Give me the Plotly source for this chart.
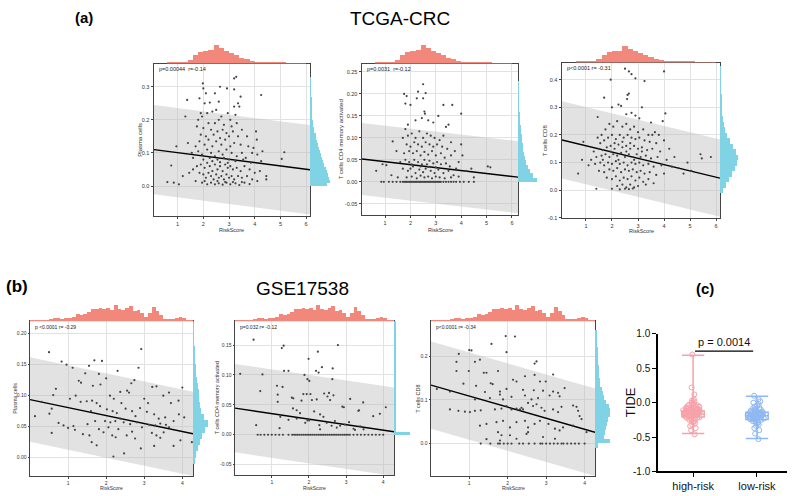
import plotly.graph_objects as go

W, H = 800, 496
FONT = "Liberation Sans, Arial, sans-serif"
SALMON = "#F2877B"
CYAN = "#7FD3E5"
PINK = "#F7A1A9"
BLUE = "#8FB8F2"

# ---------------- data ----------------
tcga_risk_start, tcga_risk_w = 0.6, 0.2
tcga_risk_counts = [1, 1, 1, 2, 4, 9, 12, 13, 14, 19, 16, 13, 11, 9, 6, 4.5, 3, 2, 1.5, 1, 1, 1, 0.7, 0.5, 0.4, 0.4, 0.3]

gse_risk_start, gse_risk_w = 0.0, 0.1
gse_risk_counts = [1.5, 1.2, 0.8, 0.8, 0.8, 3, 3.5, 3.5, 3, 3.5, 3.5, 5, 7, 6.5, 7, 9, 12, 12.5, 13, 12, 13, 11,
                   16, 12, 11, 13, 15, 10, 11, 8, 5, 8, 14, 10, 6, 3, 3, 3, 4, 4.5, 3.5, 2, 1]

a1_pts = [(3.2,0.325),(3.28,0.33),(1.98,0.31),(2.0,0.295),(2.65,0.3),(2.92,0.295),(3.2,0.292),(2.1,0.28),(2.45,0.28),
 (3.45,0.27),(4.25,0.275),(1.37,0.26),(1.85,0.265),(2.05,0.25),(2.25,0.252),(3.35,0.25),(3.2,0.24),(2.6,0.255),(3.4,0.24),
 (1.3,0.21),(1.8,0.2),(1.9,0.22),(1.95,0.21),(2.15,0.22),(2.35,0.225),(2.5,0.23),(2.7,0.21),(2.95,0.22),(3.05,0.2),
 (3.25,0.215),(2.2,0.19),(2.45,0.19),(2.6,0.2),(2.8,0.185),(3.1,0.18),(3.3,0.19),(1.75,0.18),(2.0,0.175),(2.3,0.17),
 (2.55,0.165),(2.75,0.17),(2.9,0.16),(3.15,0.165),(3.5,0.17),(4.05,0.165),(1.9,0.155),(2.1,0.15),(2.4,0.155),(2.65,0.145),
 (3.0,0.15),(3.35,0.15),(3.7,0.15),(4.08,0.14),(1.4,0.13),(1.7,0.12),(1.85,0.135),(2.05,0.125),(2.2,0.14),(2.35,0.12),
 (2.5,0.135),(2.7,0.125),(2.85,0.14),(3.05,0.12),(3.2,0.13),(3.45,0.125),(3.75,0.12),(3.95,0.115),(0.95,0.12),(1.55,0.1),
 (1.8,0.105),(1.95,0.095),(2.15,0.11),(2.3,0.1),(2.45,0.09),(2.6,0.105),(2.75,0.095),(2.9,0.11),(3.1,0.1),(3.3,0.09),
 (3.5,0.1),(3.65,0.085),(3.9,0.1),(4.1,0.095),(4.3,0.105),(5.15,0.102),(5.05,0.082),(1.6,0.085),(2.0,0.08),(2.25,0.085),
 (2.55,0.08),(2.8,0.085),(3.0,0.08),(3.25,0.075),(3.55,0.08),(3.85,0.07),(4.25,0.075),(0.75,0.062),(1.2,0.03),(1.45,0.04),
 (1.6,0.05),(1.75,0.06),(1.9,0.065),(2.05,0.055),(2.15,0.07),(2.25,0.06),(2.35,0.045),(2.45,0.065),(2.55,0.05),(2.65,0.06),
 (2.75,0.045),(2.85,0.065),(2.95,0.055),(3.05,0.06),(3.15,0.05),(3.3,0.055),(3.45,0.045),(3.6,0.06),(3.8,0.05),(4.0,0.04),
 (4.2,0.045),(4.45,0.03),(1.85,0.04),(2.0,0.035),(2.1,0.025),(2.2,0.04),(2.3,0.03),(2.4,0.02),(2.5,0.035),(2.6,0.025),
 (2.7,0.03),(2.8,0.02),(2.9,0.035),(3.0,0.025),(3.1,0.03),(3.2,0.02),(3.35,0.03),(3.5,0.025),(3.7,0.03),(3.9,0.02),
 (4.1,0.015),(4.45,0.02),(1.7,0.015),(1.95,0.01),(2.15,0.005),(2.3,0.01),(2.45,0.005),(2.6,0.008),(2.75,0.004),(2.9,0.01),
 (3.05,0.005),(3.25,0.008),(3.4,0.003),(3.6,0.01),(3.8,0.006),(0.6,0.012),(0.85,0.01),(1.05,0.005),(2.05,0.015),(2.55,0.015),
 (2.85,0.012),(3.15,0.012),(3.5,0.012),(2.35,0.075),(2.65,0.072),(2.95,0.07)]

a2_pts = [(2.5,0.222),(2.3,0.205),(1.75,0.2),(1.85,0.195),(2.6,0.202),(2.5,0.19),(2.25,0.19),(1.8,0.178),(2.0,0.175),
 (3.3,0.175),(3.65,0.175),(2.55,0.16),(2.57,0.155),(3.1,0.15),(2.7,0.14),(4.0,0.155),(3.5,0.13),(3.4,0.125),(1.9,0.13),
 (2.2,0.14),(2.45,0.145),(1.8,0.12),(2.9,0.135),(1.3,0.092),(1.45,0.07),(1.7,0.1),(1.9,0.105),(2.05,0.11),(2.2,0.1),
 (2.35,0.115),(2.5,0.1),(2.65,0.11),(2.8,0.105),(2.95,0.1),(3.15,0.095),(3.3,0.105),(3.6,0.09),(4.0,0.085),(1.85,0.085),
 (2.0,0.08),(2.15,0.09),(2.3,0.085),(2.45,0.08),(2.6,0.09),(2.75,0.085),(2.9,0.08),(3.05,0.085),(3.25,0.08),(3.45,0.075),
 (3.75,0.07),(4.05,0.06),(1.75,0.065),(1.95,0.07),(2.1,0.065),(2.25,0.07),(2.4,0.06),(2.55,0.068),(2.7,0.062),(2.85,0.07),
 (3.0,0.06),(3.2,0.065),(3.35,0.055),(3.6,0.06),(3.9,0.045),(4.4,0.03),(5.05,0.035),(5.15,0.033),(0.65,0.025),(0.9,0.04),
 (1.05,0.038),(1.6,0.045),(1.8,0.05),(1.95,0.045),(2.05,0.04),(2.15,0.05),(2.3,0.045),(2.45,0.04),(2.55,0.05),(2.65,0.04),
 (2.75,0.048),(2.9,0.042),(3.05,0.045),(3.2,0.04),(3.4,0.042),(3.55,0.035),(3.8,0.03),(4.2,0.025),(1.7,0.03),(1.9,0.025),
 (2.0,0.03),(2.2,0.02),(2.35,0.028),(2.5,0.022),(2.6,0.03),(2.8,0.025),(2.95,0.02),(3.1,0.028),(3.3,0.02),(3.5,0.025),
 (3.7,0.015),(4.5,0.01),(1.85,0.01),(2.05,0.012),(2.25,0.008),(2.4,0.014),(2.55,0.01),(2.7,0.012),(2.85,0.008),(3.0,0.012),
 (3.15,0.01),(3.35,0.008),(3.6,0.01),(3.9,0.012),(2.1,0.035),(2.4,0.035),(2.7,0.034),(3.0,0.033),(1.25,0.015),(1.5,0.01)]
a2_zero_x = [0.85,0.95,1.15,1.3,1.45,1.6,1.7,1.75,1.8,1.85,1.9,1.95,2.0,2.05,2.1,2.15,2.2,2.25,2.3,2.35,2.4,2.45,2.5,
 2.55,2.6,2.65,2.7,2.75,2.8,2.85,2.9,2.95,3.0,3.05,3.1,3.15,3.2,3.3,3.4,3.5,3.6,3.7,3.8,3.95,4.1,4.3,4.5]

a3_pts = [(2.5,0.44),(2.65,0.43),(4.0,0.43),(2.75,0.42),(2.9,0.405),(3.25,0.395),(1.95,0.4),(1.7,0.335),(2.6,0.345),
 (2.58,0.33),(2.25,0.31),(2.35,0.305),(2.0,0.3),(2.65,0.35),(3.15,0.3),(2.55,0.275),(2.75,0.28),(3.5,0.245),(4.05,0.278),
 (1.45,0.265),(0.7,0.06),(0.85,0.11),(0.9,0.175),(1.4,0.005),(5.8,0.12),(5.45,0.115),(5.4,0.13),(4.75,0.06),(4.55,0.08),
 (4.9,0.1),(5.05,0.07),(3.8,0.2),(3.05,0.26),(2.9,0.27),(1.6,0.2),(1.75,0.22),(1.9,0.24),(2.05,0.23),(2.2,0.25),(2.4,0.23),
 (2.55,0.24),(2.7,0.22),(2.85,0.23),(3.0,0.21),(3.2,0.22),(3.4,0.2),(3.65,0.21),(1.55,0.17),(1.7,0.18),(1.85,0.19),(2.0,0.2),
 (2.15,0.185),(2.3,0.2),(2.45,0.19),(2.6,0.2),(2.75,0.19),(2.9,0.185),(3.05,0.19),(3.25,0.18),(3.45,0.175),(3.7,0.17),
 (4.0,0.18),(1.3,0.14),(1.5,0.15),(1.65,0.145),(1.8,0.155),(1.95,0.16),(2.1,0.15),(2.25,0.165),(2.4,0.155),(2.55,0.16),
 (2.7,0.15),(2.85,0.16),(3.0,0.15),(3.15,0.155),(3.35,0.145),(3.55,0.15),(3.85,0.14),(4.2,0.15),(1.2,0.11),(1.4,0.12),
 (1.6,0.125),(1.75,0.13),(1.9,0.12),(2.05,0.13),(2.2,0.125),(2.35,0.135),(2.5,0.12),(2.65,0.13),(2.8,0.12),(2.95,0.13),
 (3.1,0.12),(3.3,0.125),(3.5,0.115),(3.75,0.12),(4.1,0.11),(4.4,0.12),(1.1,0.09),(1.35,0.095),(1.55,0.1),(1.7,0.09),
 (1.85,0.1),(2.0,0.095),(2.15,0.105),(2.3,0.095),(2.45,0.1),(2.6,0.09),(2.75,0.1),(2.9,0.095),(3.05,0.1),(3.2,0.09),
 (3.4,0.095),(3.6,0.085),(3.9,0.09),(4.3,0.085),(1.5,0.07),(1.7,0.065),(1.9,0.075),(2.05,0.07),(2.2,0.08),(2.35,0.065),
 (2.5,0.075),(2.65,0.07),(2.8,0.075),(2.95,0.065),(3.1,0.07),(3.25,0.06),(3.45,0.065),(3.7,0.055),(4.0,0.06),(1.8,0.045),
 (2.0,0.04),(2.15,0.05),(2.3,0.035),(2.45,0.045),(2.6,0.04),(2.75,0.05),(2.9,0.035),(3.05,0.045),(3.2,0.03),(3.4,0.04),
 (3.6,0.025),(2.2,0.015),(2.4,0.02),(2.55,0.01),(2.7,0.02),(2.85,0.01),(3.0,0.015),(3.3,0.02),(2.0,0.005),(2.3,0.003),
 (2.5,0.005),(2.65,0.004),(2.8,0.006),(1.65,0.11),(1.95,0.14),(2.25,0.11),(2.55,0.14),(2.85,0.11),(3.15,0.14),(2.1,0.17),
 (2.4,0.175),(2.7,0.17),(1.45,0.19),(3.55,0.2),(3.95,0.25)]

b1_pts = [(0.5,0.17),(0.83,0.155),(0.96,0.15),(1.12,0.145),(1.69,0.157),(1.89,0.156),(1.45,0.136),(1.81,0.135),
 (2.92,0.175),(2.85,0.145),(2.74,0.125),(3.21,0.114),(3.32,0.115),(4.0,0.113),(1.28,0.124),(1.34,0.121),(1.65,0.116),
 (0.68,0.111),(0.61,0.101),(2.6,0.105),(2.66,0.12),(1.85,0.118),(2.37,0.106),(2.55,0.108),(0.13,0.067),(0.51,0.071),
 (0.57,0.079),(0.75,0.056),(0.88,0.052),(1.0,0.048),(1.14,0.051),(1.33,0.09),(1.49,0.091),(1.63,0.092),(1.75,0.088),
 (1.84,0.083),(2.02,0.078),(2.17,0.075),(2.28,0.072),(2.51,0.079),(2.68,0.075),(2.77,0.067),(2.89,0.08),(3.07,0.074),
 (3.26,0.07),(3.38,0.063),(3.55,0.065),(3.77,0.059),(3.91,0.07),(4.05,0.065),(0.57,0.04),(1.18,0.045),(1.39,0.038),
 (1.56,0.036),(1.62,0.025),(1.75,0.02),(1.81,0.046),(1.93,0.041),(2.06,0.049),(2.16,0.036),(2.25,0.033),(2.32,0.046),
 (2.19,0.002),(2.47,0.007),(2.54,0.036),(2.68,0.042),(2.76,0.031),(2.91,0.015),(3.2,0.04),(3.26,0.019),(3.32,0.036),
 (3.42,0.032),(3.51,0.041),(3.65,0.049),(3.77,0.019),(3.95,0.028),(4.25,0.025),(1.51,0.054),(1.71,0.059),(1.97,0.059),
 (2.11,0.057),(2.24,0.059),(2.37,0.063),(2.46,0.057),(2.63,0.054),(2.81,0.057),(2.94,0.049),(3.13,0.053),(3.29,0.052),
 (3.42,0.055),(3.57,0.053),(1.05,0.095),(1.2,0.1),(2.1,0.1),(2.2,0.095),(3.0,0.095),(3.5,0.1),(3.7,0.088),(3.1,0.088),
 (2.4,0.088),(1.6,0.075),(0.3,0.09),(3.65,0.105),(3.9,0.092),(2.3,0.14),(2.0,0.128),(1.55,0.148)]

b2_pts = [(0.51,0.159),(1.27,0.145),(1.32,0.149),(2.78,0.15),(2.24,0.139),(1.99,0.127),(0.15,0.102),(0.75,0.101),
 (1.33,0.107),(1.45,0.107),(2.19,0.107),(2.26,0.104),(2.35,0.113),(2.64,0.111),(1.88,0.1),(1.96,0.093),(2.01,0.09),
 (2.63,0.093),(0.69,0.073),(1.14,0.082),(1.29,0.08),(1.16,0.067),(1.16,0.055),(1.54,0.062),(1.58,0.061),(1.85,0.068),
 (1.94,0.068),(2.04,0.068),(1.8,0.057),(2.08,0.058),(2.21,0.059),(2.41,0.069),(2.5,0.064),(2.57,0.058),(2.66,0.066),
 (2.54,0.07),(3.11,0.06),(3.46,0.054),(2.9,0.047),(2.94,0.046),(3.33,0.04),(3.35,0.041),(3.73,0.031),(3.91,0.035),
 (4.07,0.046),(0.58,0.016),(1.21,0.011),(1.23,0.03),(1.45,0.025),(1.57,0.044),(1.67,0.041),(1.76,0.036),(1.67,0.027),
 (1.9,0.02),(1.96,0.024),(2.01,0.024),(2.14,0.039),(2.3,0.034),(2.39,0.03),(2.28,0.016),(2.3,0.009),(2.48,0.02),
 (2.61,0.015),(2.7,0.023),(2.75,0.012),(2.84,0.015),(2.97,0.017),(3.08,0.021),(3.2,0.01),(3.24,0.008),(3.38,0.014),
 (3.47,0.009)]
b2_zero_x = [0.62,0.7,0.8,0.9,1.0,1.1,1.2,1.3,1.45,1.55,1.6,1.65,1.7,1.75,1.8,1.85,1.9,1.95,2.0,2.05,2.1,2.15,2.2,2.25,
 2.3,2.35,2.4,2.45,2.5,2.55,2.6,2.65,2.7,2.75,2.8,2.85,2.9,2.95,3.0,3.05,3.1,3.2,3.3,3.4,3.5,3.6,3.7,3.8,3.9,4.0]

b3_pts = [(1.95,0.246),(2.19,0.245),(1.58,0.228),(1.97,0.209),(0.73,0.205),(1.0,0.214),(1.06,0.213),(0.67,0.187),
 (1.15,0.187),(1.28,0.192),(2.75,0.188),(2.7,0.183),(0.67,0.166),(0.99,0.166),(1.38,0.162),(1.45,0.162),(1.75,0.166),
 (2.45,0.154),(2.7,0.157),(3.18,0.158),(2.14,0.146),(2.23,0.142),(2.84,0.142),(2.99,0.142),(0.85,0.137),(1.18,0.132),
 (1.56,0.138),(1.61,0.136),(3.48,0.127),(0.16,0.125),(0.5,0.119),(1.41,0.118),(1.8,0.119),(1.97,0.125),(2.4,0.123),
 (2.68,0.122),(2.92,0.121),(3.18,0.119),(3.35,0.108),(1.15,0.101),(1.54,0.104),(1.8,0.112),(1.88,0.101),(2.1,0.107),
 (2.45,0.11),(2.62,0.101),(2.79,0.104),(3.09,0.11),(3.31,0.116),(3.7,0.087),(3.79,0.084),(0.5,0.078),(0.72,0.075),
 (0.89,0.073),(1.02,0.072),(1.15,0.075),(1.3,0.076),(1.67,0.078),(1.84,0.08),(1.97,0.086),(2.1,0.078),(2.23,0.08),
 (2.32,0.078),(2.36,0.082),(2.4,0.078),(2.53,0.093),(2.66,0.086),(2.75,0.09),(2.88,0.082),(2.96,0.075),(3.18,0.078),
 (3.31,0.072),(3.4,0.084),(3.83,0.075),(3.87,0.063),(3.92,0.056),(1.28,0.041),(1.45,0.045),(1.71,0.049),(1.88,0.052),
 (1.75,0.026),(1.84,0.019),(2.06,0.037),(2.23,0.049),(2.45,0.052),(2.53,0.037),(2.53,0.026),(2.7,0.045),(2.84,0.052),
 (3.06,0.045),(3.23,0.034),(3.35,0.03),(3.44,0.037),(3.7,0.041),(1.45,0.01),(1.8,0.007),(2.06,0.019),(2.23,0.011),
 (2.49,0.022),(2.92,0.015),(3.23,0.011),(4.05,0.026)]
b3_zero_x = [1.3,1.55,1.75,1.8,1.9,2.0,2.1,2.3,2.4,2.55,2.7,2.85,2.9,3.0,3.1,3.2,3.3,3.4,3.45,3.55,3.65,3.75,3.85,4.0]

# right-side (y) histograms: start, bin width, counts
a1_yh = (0.0, 0.01, [15,18,17,16,15,14,13,12,11,10,9,8,7,6,5.5,5,4,3.5,3,2.5,2,2,1.5,1.5,1,1,1,0.8,0.8,0.6,0.5,0.5,0.4])
a2_yh = (0.0, 0.01, [19,15,12,10,8,7,6,5,4.5,4,3.5,3,2.5,2,1.5,1.2,1,1,0.8,0.6,0.5,0.4,0.4])
a3_yh = (-0.01, 0.02, [3,6,9,12,15,17,18,16,13,10,7,5,3.5,2.5,2,1.5,1,1,0.5,0.5,0.5,0.5,0.5])
b1_yh = (-0.01, 0.01, [2,3,5,7,9,13,16,12,8,7,6,6,5,4,3.5,3,2.5,2,1.5,1,1,0.8,0.8])
b2_yh = (0.0, 0.005, [16] + [1]*37)
b3_yh = (-0.01, 0.01, [3,14,8,9,10,11,12,14,14,13,10,8,7,6,5,5,4,4,3.5,3,3,2.5,2.5,2,2,1.5,1])

# regression: intercept, slope, half-width of grey band
a1_reg = (0.1108, -0.01005, 0.135)
a2_reg = (0.0526, -0.00672, 0.082)
a3_reg = (0.1838, -0.0228, 0.14)
b1_reg = (0.0937, -0.0129, 0.068)
b2_reg = (0.0446, -0.00923, 0.074)
b3_reg = (0.134, -0.0253, 0.10)

stat_labels = ["p=0.00044  r=-0.14", "p=0.0031  r=-0.12", "p<0.0001 r= -0.31",
               "p <0.0001 r= -0.29", "p=0.032 r= -0.12", "p<0.0001 r= -0.34"]
cell_labels = ["Plasma cells", "T cells CD4 memory activated", "T cells CD8"]

tide_groups = ["high-risk", "low-risk"]
tide_high = [0.70,0.22,0.12,0.05,0.03,0.02,0.0,-0.01,-0.02,-0.03,-0.04,-0.05,-0.06,-0.06,-0.07,-0.07,-0.08,-0.08,
 -0.09,-0.09,-0.10,-0.10,-0.10,-0.11,-0.11,-0.11,-0.12,-0.12,-0.12,-0.13,-0.13,-0.13,-0.14,-0.14,-0.14,-0.15,-0.15,
 -0.15,-0.16,-0.16,-0.16,-0.17,-0.17,-0.17,-0.18,-0.18,-0.18,-0.19,-0.19,-0.20,-0.20,-0.21,-0.21,-0.22,-0.22,-0.23,
 -0.24,-0.25,-0.26,-0.27,-0.28,-0.30,-0.32,-0.34,-0.37,-0.40,-0.46]
tide_low = [0.10,0.05,0.02,0.0,-0.02,-0.04,-0.06,-0.07,-0.08,-0.09,-0.10,-0.11,-0.12,-0.12,-0.13,-0.13,-0.14,-0.14,
 -0.15,-0.15,-0.15,-0.16,-0.16,-0.17,-0.17,-0.17,-0.18,-0.18,-0.18,-0.19,-0.19,-0.19,-0.20,-0.20,-0.20,-0.21,-0.21,
 -0.22,-0.22,-0.23,-0.23,-0.24,-0.24,-0.25,-0.25,-0.26,-0.27,-0.28,-0.29,-0.30,-0.32,-0.34,-0.37,-0.40,-0.45,-0.53]
# box stats: q1, median, q3, lower whisker, upper whisker
tide_high_stats = [-0.21, -0.165, -0.12, -0.45, 0.69]
tide_low_stats = [-0.245, -0.19, -0.14, -0.52, 0.095]
tide_p = "p = 0.0014"

# ---------------- layout helpers ----------------
def fx(p): return p / W
def fy(p): return 1 - p / H

fig = go.Figure()
axes = {}
count = [0]
annotations = []

def new_axes(xd, yd, xkw, ykw):
    count[0] += 1
    n = count[0]
    xs = "" if n == 1 else str(n)
    axes["xaxis" + xs] = dict(domain=[fx(xd[0]), fx(xd[1])], anchor="y" + xs, **xkw)
    axes["yaxis" + xs] = dict(domain=[fy(yd[1]), fy(yd[0])], anchor="x" + xs, **ykw)
    return "x" + xs, "y" + xs

def hist_xy(spec):
    start, w, counts = spec
    centers = [start + w * (i + 0.5) for i in range(len(counts))]
    return centers, counts, w

def text(t, x, y, size, color="#333", angle=0, xanchor="center", **kw):
    annotations.append(dict(text=t, x=fx(x), y=fy(y), xref="paper", yref="paper", showarrow=False,
                            xanchor=xanchor, yanchor="middle", textangle=angle,
                            font=dict(size=size, color=color, family=FONT), **kw))

def panel(box, xr, yr, xt, yt, ytxt, pts, zero_x, reg, top_spec, top_h, right_spec, right_w,
          ylabel, stat, fs, ytitle_x, xtitle_y, tlen):
    x0, x1, t, b = box
    grid = dict(showgrid=True, gridcolor="#e2e2e2", gridwidth=0.8, zeroline=False, showline=True, mirror=True,
                linecolor="#444", linewidth=1, ticks="outside", ticklen=tlen, tickcolor="#444",
                tickfont=dict(size=fs, color="#333", family=FONT))
    xa, ya = new_axes((x0, x1), (t, b), dict(range=xr, tickvals=xt, **grid),
                      dict(range=yr, tickvals=yt, ticktext=ytxt, **grid))
    inter, slope, half = reg
    bx = [xr[0], xr[1], xr[1], xr[0]]
    by = [inter + slope * xr[0] + half, inter + slope * xr[1] + half,
          inter + slope * xr[1] - half, inter + slope * xr[0] - half]
    fig.add_trace(go.Scatter(x=bx, y=by, fill="toself", fillcolor="rgba(185,185,185,0.42)", mode="none",
                             xaxis=xa, yaxis=ya, showlegend=False, hoverinfo="skip"))
    fig.add_trace(go.Scatter(x=[xr[0], xr[1]], y=[inter + slope * xr[0], inter + slope * xr[1]], mode="lines",
                             line=dict(color="black", width=1.4), xaxis=xa, yaxis=ya, showlegend=False))
    px = [p[0] for p in pts] + list(zero_x)
    py = [p[1] for p in pts] + [0.0] * len(zero_x)
    fig.add_trace(go.Scatter(x=px, y=py, mode="markers", marker=dict(size=2.2, color="#444"),
                             xaxis=xa, yaxis=ya, showlegend=False))
    hx, hc, hw = hist_xy(top_spec)
    txa, tya = new_axes((x0, x1), (t - top_h, t), dict(range=xr, visible=False),
                        dict(range=[0, max(hc) * 1.02], visible=False))
    fig.add_trace(go.Bar(x=hx, y=hc, width=hw, marker=dict(color=SALMON, line=dict(width=0)),
                         xaxis=txa, yaxis=tya, showlegend=False))
    rx, rc, rw = hist_xy(right_spec)
    rxa, rya = new_axes((x1, x1 + right_w), (t, b), dict(range=[0, max(rc) * 1.05], visible=False),
                        dict(range=yr, visible=False))
    fig.add_trace(go.Bar(y=rx, x=rc, width=rw, orientation="h", marker=dict(color=CYAN, line=dict(width=0)),
                         xaxis=rxa, yaxis=rya, showlegend=False))
    text(stat, x0 + 3, t + 6, fs, color="#222", xanchor="left")
    text(ylabel, ytitle_x, (t + b) / 2, fs + 0.5, angle=-90)
    text("RiskScore", (x0 + x1) / 2, xtitle_y, fs)

# ---------------- panels ----------------
top_a = (tcga_risk_start, tcga_risk_w, tcga_risk_counts)
top_b = (gse_risk_start, gse_risk_w, gse_risk_counts)

panel((154, 310, 59, 215), [0.08, 6.15], [-0.09, 0.37], [1, 2, 3, 4, 5, 6], [0, 0.1, 0.2, 0.3],
      ["0.0", "0.1", "0.2", "0.3"], a1_pts, [], a1_reg, top_a, 19, a1_yh, 21, cell_labels[0], stat_labels[0],
      5.5, 140, 229.5, 2.5)
panel((362, 518, 59, 214), [0.09, 6.24], [-0.075, 0.269], [1, 2, 3, 4, 5, 6],
      [-0.05, 0, 0.05, 0.1, 0.15, 0.2, 0.25], ["-0.05", "0.00", "0.05", "0.10", "0.15", "0.20", "0.25"],
      a2_pts, a2_zero_x, a2_reg, top_a, 19, a2_yh, 20, cell_labels[1], stat_labels[1], 5.5, 341, 229.5, 2.5)
panel((562, 720, 58, 217), [0.08, 6.15], [-0.1, 0.462], [1, 2, 3, 4, 5, 6],
      [-0.1, 0, 0.1, 0.2, 0.3, 0.4], ["-0.1", "0.0", "0.1", "0.2", "0.3", "0.4"],
      a3_pts, [], a3_reg, top_a, 17, a3_yh, 19, cell_labels[2], stat_labels[2], 5.5, 545, 231, 2.5)
panel((30, 193, 323, 482), [0.0, 4.28], [-0.03, 0.22], [1, 2, 3, 4], [0, 0.05, 0.1, 0.15, 0.2],
      ["0.00", "0.05", "0.10", "0.15", "0.20"], b1_pts, [], b1_reg, top_b, 17, b1_yh, 16,
      cell_labels[0], stat_labels[3], 5, 15, 493.5, 1.5)
panel((235, 394, 323, 481), [0.01, 4.29], [-0.068, 0.19], [1, 2, 3, 4], [-0.05, 0, 0.05, 0.1, 0.15],
      ["-0.05", "0.00", "0.05", "0.10", "0.15"], b2_pts, b2_zero_x, b2_reg, top_b, 17, b2_yh, 17,
      cell_labels[1], stat_labels[4], 5, 217, 493.5, 1.5)
panel((431, 595, 323, 482), [0.008, 4.27], [-0.075, 0.28], [1, 2, 3, 4], [0, 0.1, 0.2],
      ["0.0", "0.1", "0.2"], b3_pts, b3_zero_x, b3_reg, top_b, 17, b3_yh, 16,
      cell_labels[2], stat_labels[5], 5, 418, 493.5, 1.5)

# ---------------- TIDE box plot ----------------
cxa, cya = new_axes((658, 787), (336, 477),
                    dict(type="category", categoryorder="array", categoryarray=tide_groups, range=[-0.55, 1.47],
                         showline=True, linecolor="black", linewidth=1.5, ticks="outside", ticklen=4,
                         tickcolor="black", showgrid=False, zeroline=False,
                         tickfont=dict(size=11, color="#111", family=FONT)),
                    dict(range=[-1, 1], tickvals=[-1, -0.5, 0, 0.5, 1],
                         ticktext=["-1.0", "-0.5", "0.0", "0.5", "1.0"], showline=True, linecolor="black",
                         linewidth=1.5, ticks="outside", ticklen=4, tickcolor="black", showgrid=False,
                         zeroline=False, tickfont=dict(size=10, color="#111", family=FONT)))
for grp, vals, st, col in [(tide_groups[0], tide_high, tide_high_stats, PINK),
                            (tide_groups[1], tide_low, tide_low_stats, BLUE)]:
    fig.add_trace(go.Box(x=[grp] * len(vals), y=vals, boxpoints="all", jitter=0.9, pointpos=0,
                         line=dict(color="rgba(0,0,0,0)"), fillcolor="rgba(0,0,0,0)",
                         marker=dict(symbol="circle-open", size=5, color=col, line=dict(width=1)),
                         xaxis=cxa, yaxis=cya, showlegend=False))
    fig.add_trace(go.Box(x=[grp], q1=[st[0]], median=[st[1]], q3=[st[2]], lowerfence=[st[3]], upperfence=[st[4]],
                         boxpoints=False, whiskerwidth=1, fillcolor="rgba(0,0,0,0)",
                         line=dict(color=col, width=1.5), xaxis=cxa, yaxis=cya, showlegend=False))

fig.add_shape(type="line", xref=cxa, yref=cya, x0=0.03, x1=0.94, y0=0.75, y1=0.75,
              line=dict(color="black", width=1.2))
annotations.append(dict(text=tide_p, xref=cxa, yref=cya, x=0.485, y=0.77, xanchor="center", yanchor="bottom",
                        showarrow=False, font=dict(size=11, color="#111", family=FONT)))
text("TIDE", 630, 406, 13, color="#111", angle=-90)

# ---------------- titles ----------------
text("<b>(a)</b>", 84, 12, 15, color="black")
text("TCGA-CRC", 400, 13, 19, color="black")
text("<b>(b)</b>", 17, 287, 17, color="black")
text("GSE17538", 302, 289, 19, color="black")
text("<b>(c)</b>", 705, 290, 15, color="black")

fig.update_layout(width=W, height=H, margin=dict(l=0, r=0, t=0, b=0, pad=0), paper_bgcolor="white",
                  plot_bgcolor="white", showlegend=False, boxmode="overlay", boxgap=0.5, bargap=0,
                  annotations=annotations, font=dict(family=FONT), **axes)
fig.write_html("out.html", config={"displayModeBar": False},
               post_script="document.body.style.margin='0';document.body.style.overflow='hidden';")
